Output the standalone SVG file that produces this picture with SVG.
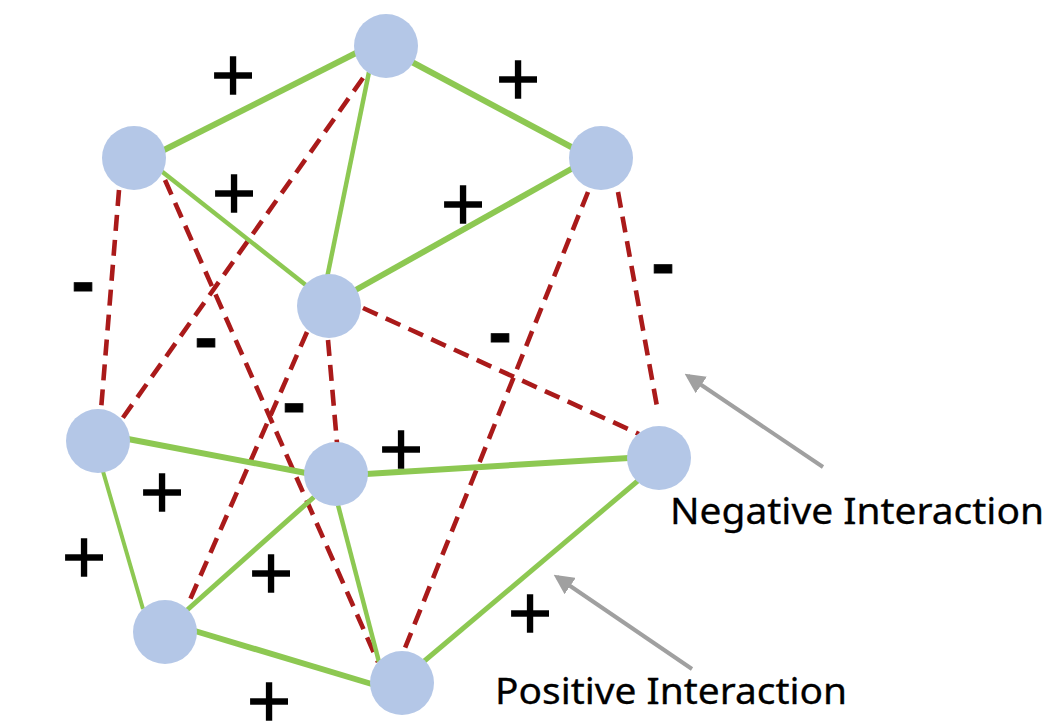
<svg xmlns="http://www.w3.org/2000/svg" width="1053" height="727" viewBox="0 0 1053 727">
<defs>
<style>
.pos{stroke:#8DC852;fill:none;stroke-linecap:butt}
.neg{stroke:#AA1A1A;fill:none;stroke-width:4.6;stroke-dasharray:16 9}
.node{fill:#B4C7E7}
.plus{font-family:"DejaVu Sans",sans-serif;font-size:58px;fill:#000;text-anchor:middle;stroke:#000;stroke-width:1.6}
.minus{font-family:"DejaVu Sans",sans-serif;font-weight:bold;font-size:58px;fill:#000;text-anchor:middle;stroke:#000;stroke-width:0.8}
.lbl{font-family:"Noto Sans","Liberation Sans",sans-serif;font-size:36px;fill:#000;stroke:#000;stroke-width:0.3}
.arr{stroke:#A0A0A0;stroke-width:4;fill:none}
</style>
<marker id="ah" viewBox="0 0 10 10" refX="8" refY="5" markerWidth="5" markerHeight="5" orient="auto" markerUnits="strokeWidth">
<path d="M0,0 L10,5 L0,10 z" fill="#A0A0A0"/>
</marker>
</defs>
<rect width="1053" height="727" fill="#fff"/>
<g id="connectors">
<line class="neg" x1="119" y1="190" x2="101" y2="410"/>
<line class="neg" x1="363" y1="78" x2="122" y2="419"/>
<line class="neg" x1="165" y1="180" x2="378" y2="662"/>
<line class="neg" x1="307" y1="332" x2="189" y2="602"/>
<line class="neg" x1="328" y1="340" x2="337" y2="443"/>
<line class="neg" x1="363" y1="308" x2="639" y2="434"/>
<line class="neg" x1="618" y1="192" x2="658" y2="412"/>
<line class="neg" x1="588" y1="192" x2="403" y2="653"/>
<line class="pos" stroke-width="6" x1="160" y1="152" x2="358" y2="52"/>
<line class="pos" stroke-width="6" x1="410" y1="61" x2="575" y2="149"/>
<line class="pos" stroke-width="4.5" x1="369" y1="72" x2="327" y2="278"/>
<line class="pos" stroke-width="4.5" x1="160" y1="170" x2="307" y2="286"/>
<line class="pos" stroke-width="6" x1="573" y1="168" x2="352" y2="292"/>
<line class="pos" stroke-width="6" x1="128" y1="439" x2="306" y2="473"/>
<line class="pos" stroke-width="6" x1="366" y1="474" x2="629" y2="458"/>
<line class="pos" stroke-width="4" x1="102" y1="468" x2="143" y2="609"/>
<line class="pos" stroke-width="5" x1="186" y1="611" x2="314" y2="497"/>
<line class="pos" stroke-width="6" x1="195" y1="631" x2="375" y2="685"/>
<line class="pos" stroke-width="4.5" x1="338" y1="505" x2="379" y2="662"/>
<line class="pos" stroke-width="5" x1="422" y1="663" x2="640" y2="479"/>
<line class="arr" marker-end="url(#ah)" x1="823" y1="467" x2="688" y2="376"/>
<line class="arr" marker-end="url(#ah)" x1="692" y1="669" x2="557" y2="577"/>
</g>
<g id="nA"><circle class="node" cx="386" cy="46" r="32"/></g>
<g id="nB"><circle class="node" cx="134" cy="158" r="32"/></g>
<g id="nC"><circle class="node" cx="601" cy="158" r="32"/></g>
<g id="nD"><circle class="node" cx="329" cy="306" r="32"/></g>
<g id="nE"><circle class="node" cx="98" cy="441" r="32"/></g>
<g id="nF"><circle class="node" cx="336" cy="474" r="32"/></g>
<g id="nG"><circle class="node" cx="659" cy="458" r="32"/></g>
<g id="nH"><circle class="node" cx="165" cy="632" r="32"/></g>
<g id="nI"><circle class="node" cx="402" cy="683" r="32"/></g>
<g id="labels">
<text class="plus" x="233" y="94">+</text>
<text class="plus" x="518" y="98">+</text>
<text class="plus" x="234" y="212">+</text>
<text class="plus" x="463" y="223">+</text>
<text class="plus" x="401" y="468">+</text>
<text class="plus" x="162" y="511">+</text>
<text class="plus" x="84" y="576">+</text>
<text class="plus" x="271" y="592">+</text>
<text class="plus" x="530" y="632">+</text>
<text class="plus" x="269" y="720">+</text>
<text class="minus" x="83" y="304">-</text>
<text class="minus" x="206" y="360">-</text>
<text class="minus" x="294" y="425">-</text>
<text class="minus" x="500" y="355">-</text>
<text class="minus" x="663" y="286">-</text>
<text class="lbl" x="670" y="524" textLength="374" lengthAdjust="spacingAndGlyphs">Negative Interaction</text>
<text class="lbl" x="495" y="704" textLength="352" lengthAdjust="spacingAndGlyphs">Positive Interaction</text>
</g>
</svg>
